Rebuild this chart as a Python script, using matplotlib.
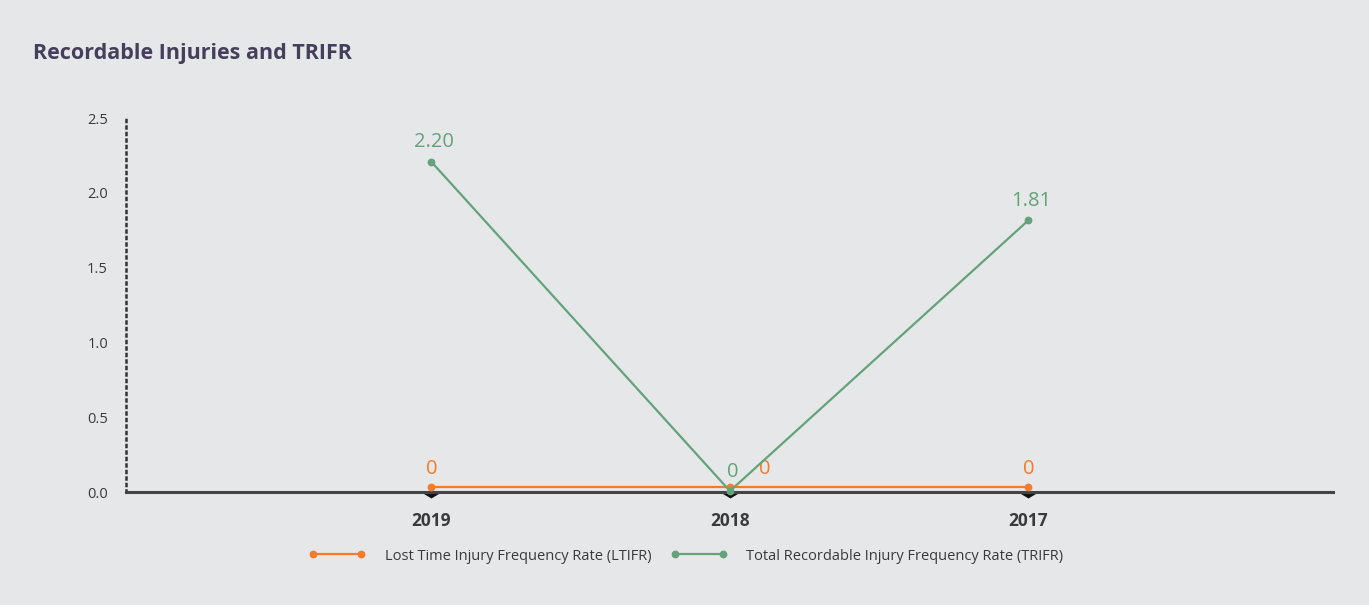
import matplotlib
matplotlib.use("Agg")
import matplotlib.pyplot as plt
import matplotlib.transforms as mtransforms
from matplotlib.lines import Line2D

years = ["2019", "2018", "2017"]
ltifr = [0, 0, 0]
trifr = [2.20, 0, 1.81]
ltifr_labels = ["0", "0", "0"]
trifr_labels = ["2.20", "0", "1.81"]
yticks = [0.0, 0.5, 1.0, 1.5, 2.0, 2.5]

BG = "#e6e7e9"
ORANGE = "#f47b2b"
GREEN = "#64a27c"
TEXT = "#3a3a3c"

plt.rcParams["font.family"] = ["Open Sans", "DejaVu Sans"]

fig = plt.figure(figsize=(13.69, 6.05), dpi=100, facecolor=BG)
ax = fig.add_axes([126 / 1369, 1 - 492 / 605, (1333 - 126) / 1369, (492 - 118) / 605])
ax.set_facecolor(BG)

x = list(range(len(years)))
ax.set_xlim(-1.023, 3.02)
ax.set_ylim(0, 2.5)

# lift the series a few pixels off the baseline so they stay visible over the axis line
lift_o = mtransforms.offset_copy(ax.transData, fig=fig, x=0, y=5, units="dots")
lift_g = mtransforms.offset_copy(ax.transData, fig=fig, x=0, y=1, units="dots")

ax.plot(x, ltifr, color=ORANGE, lw=1.6, marker="o", ms=4.6, transform=lift_o, zorder=4, clip_on=False)
ax.plot(x, trifr, color=GREEN, lw=1.6, marker="o", ms=4.6, transform=lift_g, zorder=5, clip_on=False)

# value labels
for i, (v, t) in enumerate(zip(ltifr, ltifr_labels)):
    dx = 25 if i == 1 else 0
    ax.annotate(t, (x[i], v), xytext=(dx, 9.5), textcoords="offset points", ha="center",
                va="bottom", color=ORANGE, fontsize=14.5)
for i, (v, t) in enumerate(zip(trifr, trifr_labels)):
    ax.annotate(t, (x[i], v), xytext=(2, 7.5), textcoords="offset points", ha="center",
                va="bottom", color=GREEN, fontsize=14.5)

# axes styling
for s in ["top", "right"]:
    ax.spines[s].set_visible(False)
ax.spines["left"].set_linestyle((0, (0.8, 1.8)))
ax.spines["left"].set_linewidth(1.8)
ax.spines["left"].set_color("#333333")
ax.spines["bottom"].set_linewidth(2.2)
ax.spines["bottom"].set_color("#444446")
ax.spines["bottom"].set_zorder(3)

ax.set_yticks(yticks)
ax.set_yticklabels([f"{v:.1f}" for v in yticks])
ax.tick_params(axis="y", length=0, pad=13, labelsize=10.5, labelcolor=TEXT)

ax.set_xticks(x)
ax.set_xticklabels(years, fontweight="bold", fontsize=12.5)
ax.tick_params(axis="x", length=0, pad=14.5, labelcolor=TEXT)

# small flat downward pointers under each category
pointer = [(-1, 0), (1, 0), (0, -0.6), (-1, 0)]
ax.plot(x, [0] * len(x), linestyle="none", marker=pointer, ms=12, color="#111111",
        markeredgewidth=0,
        transform=mtransforms.offset_copy(ax.transData, fig=fig, x=0, y=-1, units="dots"),
        clip_on=False, zorder=2)

fig.text(33 / 1369, 1 - 53 / 605, "Recordable Injuries and TRIFR", fontsize=15.5,
         fontweight="bold", color="#463f5b", va="center", ha="left")

handles = [
    Line2D([0], [0], color=ORANGE, lw=1.6, marker="o", ms=4.6),
    Line2D([0], [0], color=GREEN, lw=1.6, marker="o", ms=4.6),
]
fig.legend(handles, ["Lost Time Injury Frequency Rate (LTIFR)",
                     "Total Recordable Injury Frequency Rate (TRIFR)"],
           loc="center", bbox_to_anchor=(686 / 1369, 1 - 556 / 605), ncol=2, frameon=False,
           fontsize=10.5, numpoints=2, handlelength=3.9, handletextpad=1.3, columnspacing=1.3,
           labelcolor=TEXT)

fig.savefig("out.png", dpi=100, facecolor=BG)
